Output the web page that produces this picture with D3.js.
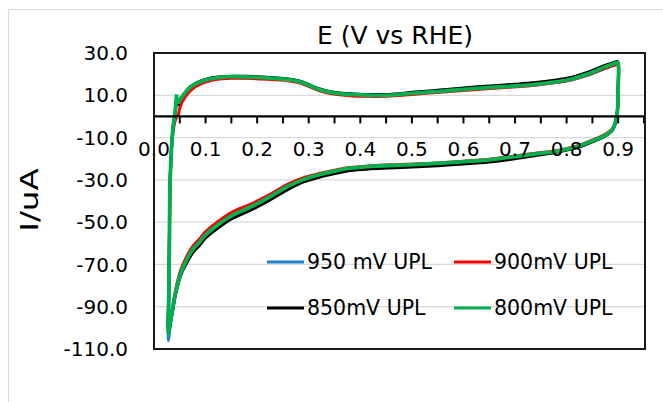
<!DOCTYPE html>
<html>
<head>
<meta charset="utf-8">
<script src="https://cdn.jsdelivr.net/npm/d3@7"></script>
<style>
  body { margin: 0; background: #fff; }
  svg text { font-family: "DejaVu Sans", sans-serif; fill: #000; }
</style>
</head>
<body>
<svg id="chart" width="663" height="402"></svg>
<script>
// potential along the loop: anodic sweep, turn at 0.9 V, cathodic sweep, back up
const potential = [
  0.047, 0.05, 0.055, 0.06, 0.07, 0.08, 0.09, 0.1, 0.12, 0.15, 0.18, 0.21, 0.24, 0.26, 0.28, 0.3, 0.32, 0.34, 0.36, 0.38,
  0.41, 0.45, 0.48, 0.52, 0.56, 0.6, 0.65, 0.7, 0.74, 0.78, 0.81, 0.84, 0.87, 0.89, 0.898,
  0.9, 0.9, 0.899, 0.897, 0.893,
  0.888, 0.878, 0.866, 0.846, 0.83, 0.807, 0.78, 0.74, 0.7, 0.65, 0.6, 0.55, 0.48, 0.42, 0.38, 0.355, 0.32, 0.29, 0.26, 0.225,
  0.19, 0.15, 0.12, 0.1, 0.088, 0.075, 0.064, 0.052, 0.042, 0.036, 0.032, 0.03,
  0.028, 0.029, 0.03, 0.031, 0.034, 0.037, 0.04, 0.042, 0.044
];

const i950 = [
  6, 8, 9.5, 11, 13.6, 15.1, 16.2, 17, 18, 18.6, 18.5, 18.2, 17.7, 17.2, 16.4, 14.6, 12.6, 11.3, 10.6, 10.2,
  9.9, 9.8, 10.3, 11.1, 11.8, 12.6, 13.5, 14.2, 15, 16.1, 17.3, 19.4, 22.2, 24, 24.6,
  24.2, 14, 4, 0, -4,
  -6.6, -8.6, -10.1, -12.1, -13.6, -15.2, -16.6, -17.8, -19.1, -20.6, -21.5, -22.3, -23.1, -23.7, -24.6, -25.7, -27.6, -29.9, -33.1, -38.1,
  -42.6, -47.1, -52.1, -56.1, -59.6, -63.1, -67.6, -74.2, -83.5, -92, -98, -102,
  -106, -82, -56, -34, -15, -5, 0, 4, 8
];

const i900 = [
  0, 4, 7, 9, 12, 14, 15.3, 16.3, 17.4, 18, 18, 17.7, 17.3, 16.9, 16, 14.2, 12.2, 10.9, 10.2, 9.8,
  9.5, 9.5, 10, 10.8, 11.5, 12.3, 13.2, 14, 14.8, 16, 17.3, 19.5, 22.4, 24, 24.8,
  24.5, 14, 4, 0, -4,
  -6, -8, -9.6, -11.6, -13.2, -14.8, -16.2, -17.4, -18.7, -20.2, -21.2, -22, -22.7, -23.3, -24.2, -25.2, -27, -29, -32, -36.8,
  -41.2, -45.5, -50.5, -54.5, -58, -61.5, -66, -72.5, -82, -90.5, -96.5, -99.5,
  -102, -80, -55, -33, -15, -7, -3, -1.5, -0.5
];

const i850 = [
  5, 7.8, 9.6, 11.2, 14, 15.6, 16.7, 17.5, 18.5, 19, 19, 18.7, 18.2, 17.7, 16.9, 15.1, 13.1, 11.8, 11.1, 10.7,
  10.4, 10.4, 10.9, 11.8, 12.6, 13.5, 14.4, 15.2, 16, 17.2, 18.5, 20.8, 23.8, 25.4, 26,
  25.5, 14, 4, 0, -4.5,
  -6.8, -8.8, -10.4, -12.4, -14, -15.6, -17, -18.5, -20, -21.5, -22.5, -23.3, -24.2, -24.8, -25.6, -26.8, -28.8, -31, -34.5, -39.5,
  -44, -48.5, -53.5, -57.5, -61, -64.5, -69, -75, -84, -92, -97.5, -100,
  -101, -80, -55, -33, -15, -5, 0, 4, 8
];

const i800 = [
  6, 8, 9.5, 11, 13.8, 15.3, 16.4, 17.2, 18.2, 18.8, 18.7, 18.4, 17.9, 17.4, 16.6, 14.8, 12.8, 11.5, 10.8, 10.4,
  10.1, 10, 10.5, 11.3, 12, 12.8, 13.7, 14.4, 15.2, 16.4, 17.7, 20, 23, 24.8, 25.6,
  25, 14, 4, 0, -4,
  -6.5, -8.5, -10, -12, -13.5, -15.1, -16.5, -17.7, -19, -20.5, -21.4, -22.2, -23, -23.6, -24.5, -25.6, -27.5, -29.8, -33, -38,
  -42.5, -47, -52, -56, -59.5, -63, -67.5, -74, -83, -91, -97, -100,
  -103, -80, -55, -33, -15, -5, 0, 5, 10.4
];

const seriesNames = ['950 mV UPL', '900mV UPL', '850mV UPL', '800mV UPL'];
const seriesColors = ['#1f7fd0', '#ff0000', '#000000', '#00b050'];
const seriesWidths = [3, 3, 3, 3.8];
const seriesValues = [i950, i900, i850, i800];

const yTicks = [30, 10, -10, -30, -50, -70, -90, -110];
const xLabelTicks = [0, 0.1, 0.2, 0.3, 0.4, 0.5, 0.6, 0.7, 0.8, 0.9];
const xMinorTicks = d3.range(0, 0.951, 0.05);

const svg = d3.select('#chart');
const plotLeft = 154, plotRight = 645, plotTop = 53, plotBottom = 349;

const x = d3.scaleLinear().domain([0, 0.952]).range([plotLeft, plotRight]);
const y = d3.scaleLinear().domain([-110, 30]).range([plotBottom, plotTop]);

// outer chart frame (only top/left visible)
svg.append('path')
  .attr('d', `M8.5,402 V9.5 H663`)
  .attr('fill', 'none')
  .attr('stroke', '#d9d9d9')
  .attr('stroke-width', 1.2);

// gridlines
svg.append('g')
  .selectAll('line')
  .data(yTicks.filter(d => d !== 30 && d !== -110))
  .enter().append('line')
  .attr('x1', plotLeft).attr('x2', plotRight)
  .attr('y1', d => y(d)).attr('y2', d => y(d))
  .attr('stroke', '#d9d9d9')
  .attr('stroke-width', 1.3);

// y tick labels (plain hyphen like Excel)
svg.append('g')
  .selectAll('text')
  .data(yTicks)
  .enter().append('text')
  .attr('x', 128)
  .attr('y', d => y(d))
  .attr('dy', '0.36em')
  .attr('text-anchor', 'end')
  .style('font-size', '20px')
  .text(d => d.toFixed(1));

// series
const line = d3.line()
  .x((d, i) => x(potential[i]))
  .y(d => y(d))
  .curve(d3.curveCatmullRom.alpha(0.5));

svg.append('g')
  .selectAll('path')
  .data(seriesValues)
  .enter().append('path')
  .attr('d', d => line(d))
  .attr('fill', 'none')
  .attr('stroke', (d, i) => seriesColors[i])
  .attr('stroke-width', (d, i) => seriesWidths[i])
  .attr('stroke-linejoin', 'round');

// x axis on the zero line
const xAxis = svg.append('g').attr('transform', `translate(0,${y(0)})`);
xAxis.append('line')
  .attr('x1', plotLeft).attr('x2', plotRight)
  .attr('stroke', '#000').attr('stroke-width', 2.2);
xAxis.selectAll('line.tick')
  .data(xMinorTicks)
  .enter().append('line')
  .attr('class', 'tick')
  .attr('x1', d => x(d)).attr('x2', d => x(d))
  .attr('y1', 0).attr('y2', 7)
  .attr('stroke', '#000').attr('stroke-width', 2);
xAxis.selectAll('text')
  .data(xLabelTicks)
  .enter().append('text')
  .attr('x', d => x(d))
  .attr('y', 40)
  .attr('text-anchor', 'middle')
  .style('font-size', '20px')
  .text(d => d.toFixed(1));

// plot border
svg.append('rect')
  .attr('x', plotLeft).attr('y', plotTop)
  .attr('width', plotRight - plotLeft).attr('height', plotBottom - plotTop)
  .attr('fill', 'none')
  .attr('stroke', '#1a1a1a')
  .attr('stroke-width', 2);

// title and y label
svg.append('text')
  .attr('x', 395).attr('y', 44)
  .attr('text-anchor', 'middle')
  .style('font-size', '25px')
  .text('E (V vs RHE)');

svg.append('text')
  .attr('transform', 'translate(38,200) rotate(-90) scale(1.3,1)')
  .attr('text-anchor', 'middle')
  .style('font-size', '25px')
  .text('I/uA');

// legend
const legendPos = [[267, 262], [454, 262], [267, 308], [454, 308]];
const legend = svg.append('g')
  .selectAll('g')
  .data(seriesNames)
  .enter().append('g')
  .attr('transform', (d, i) => `translate(${legendPos[i][0]},${legendPos[i][1]})`);
legend.append('line')
  .attr('x1', 0).attr('x2', 37)
  .attr('stroke', (d, i) => seriesColors[i])
  .attr('stroke-width', 3);
legend.append('text')
  .attr('x', 40)
  .attr('dy', '0.36em')
  .style('font-size', '20.5px')
  .text(d => d);
</script>
</body>
</html>
